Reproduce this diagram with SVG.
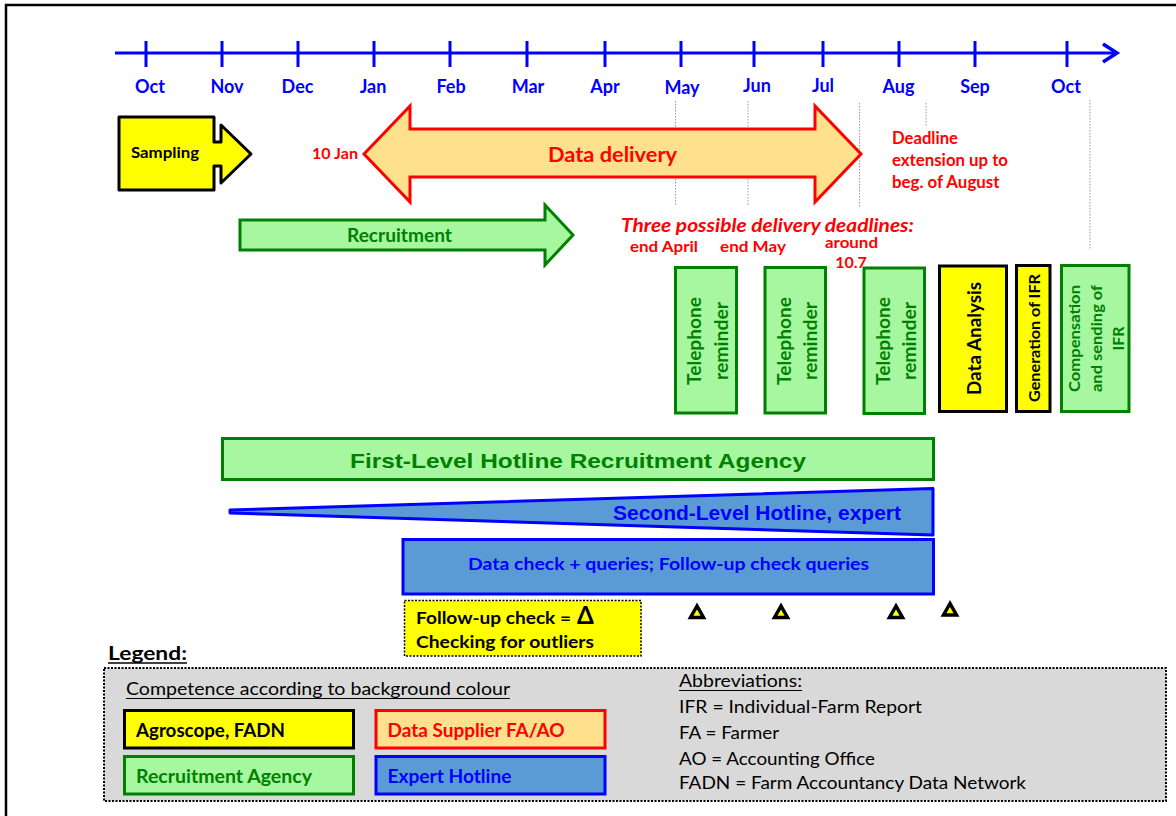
<svg xmlns="http://www.w3.org/2000/svg" width="1176" height="816" viewBox="0 0 1176 816">
<style>
  text { font-family: Lato, "Liberation Sans", sans-serif; }
  .b { font-weight: bold; }
  .month { font-weight: bold; font-size: 18px; fill: #0000FF; text-anchor: middle; }
  .red { fill: #FF0000; }
  .grn { fill: #008000; }
  .blu { fill: #0000FF; }
  .blk { fill: #000000; }
  .gfill { fill: #A6F7A0; stroke: #008000; stroke-width: 3; }
  .yfill { fill: #FFFF00; stroke: #000000; stroke-width: 3; }
  .ofill { fill: #FFE08C; stroke: #FF0000; stroke-width: 3; }
  .bfill { fill: #5B9BD5; stroke: #0000FF; stroke-width: 3; }
  .dot { stroke: #9A9A9A; stroke-width: 1; stroke-dasharray: 1.5 1.5; fill: none; }
  .tri { fill: #FFFF00; stroke: #000000; stroke-width: 3.5; stroke-linejoin: miter; }
  .arial { font-family: "Liberation Sans", Arial, sans-serif; font-weight: bold; }
  .reg { font-weight: normal; font-size: 18px; fill: #000000; }
</style>

<!-- frame -->
<path d="M6,820 V5 H1180" fill="none" stroke="#000" stroke-width="2.5"/>

<!-- timeline -->
<g id="timeline" stroke="#0000FF" stroke-width="3" fill="none">
  <line x1="115" y1="53" x2="1116" y2="53"/>
  <polyline points="1103,44 1117,53 1103,62" stroke-width="3.5"/>
  <line x1="146" y1="41" x2="146" y2="67"/>
  <line x1="222" y1="41" x2="222" y2="67"/>
  <line x1="298" y1="41" x2="298" y2="67"/>
  <line x1="374" y1="41" x2="374" y2="67"/>
  <line x1="450" y1="41" x2="450" y2="67"/>
  <line x1="527" y1="41" x2="527" y2="67"/>
  <line x1="605" y1="41" x2="605" y2="67"/>
  <line x1="681" y1="41" x2="681" y2="67"/>
  <line x1="754" y1="41" x2="754" y2="67"/>
  <line x1="823" y1="41" x2="823" y2="67"/>
  <line x1="899" y1="41" x2="899" y2="67"/>
  <line x1="975" y1="41" x2="975" y2="67"/>
  <line x1="1067" y1="41" x2="1067" y2="67"/>
</g>
<g id="months">
  <text class="month" x="150" y="92.5">Oct</text>
  <text class="month" x="227" y="92.5">Nov</text>
  <text class="month" x="297.5" y="92.5">Dec</text>
  <text class="month" x="373" y="92.5">Jan</text>
  <text class="month" x="451" y="92.5">Feb</text>
  <text class="month" x="528" y="92.5">Mar</text>
  <text class="month" x="605" y="92.5">Apr</text>
  <text class="month" x="682" y="94">May</text>
  <text class="month" x="757" y="91.5">Jun</text>
  <text class="month" x="823" y="91.5">Jul</text>
  <text class="month" x="898.5" y="92.5">Aug</text>
  <text class="month" x="975" y="92.5">Sep</text>
  <text class="month" x="1066" y="93">Oct</text>
</g>

<!-- dotted guide lines -->
<g id="guides">
  <line class="dot" x1="675.5" y1="101" x2="675.5" y2="205"/>
  <line class="dot" x1="748" y1="101" x2="748" y2="206"/>
  <line class="dot" x1="859.5" y1="103" x2="859.5" y2="208"/>
  <line class="dot" x1="926" y1="103" x2="926" y2="127"/>
  <line class="dot" x1="1090" y1="100" x2="1090" y2="250"/>
</g>

<!-- Sampling -->
<g id="sampling">
  <polygon class="yfill" stroke-width="3.5" stroke-linejoin="round" points="119,117 214,117 214,142 221,142 221,125 251,154 221,183 221,166 214,166 214,190 119,190"/>
  <text class="b blk" x="165" y="157.8" font-size="16" text-anchor="middle" textLength="68" lengthAdjust="spacingAndGlyphs">Sampling</text>
</g>

<!-- Data delivery -->
<g id="data-delivery">
  <polygon class="ofill" stroke-width="3.5" points="364,154 410,106 410,129 815,129 815,106 861,154 815,202 815,177 410,177 410,202"/>
  <text class="b red" x="612.5" y="161.5" font-size="21" text-anchor="middle" textLength="129" lengthAdjust="spacingAndGlyphs">Data delivery</text>
</g>
<text class="b red" x="358" y="158.5" font-size="15" text-anchor="end" textLength="46" lengthAdjust="spacingAndGlyphs">10 Jan</text>
<g id="deadline-ext" class="b red" font-size="16.5">
  <text x="892" y="144" textLength="66" lengthAdjust="spacingAndGlyphs">Deadline</text>
  <text x="892" y="166" textLength="116" lengthAdjust="spacingAndGlyphs">extension up to</text>
  <text x="892" y="188" textLength="107.5" lengthAdjust="spacingAndGlyphs">beg. of August</text>
</g>

<!-- Recruitment -->
<g id="recruitment">
  <polygon class="gfill" stroke-width="3.5" points="240,220 545,220 545,205 573,235 545,265 545,250 240,250"/>
  <text class="b grn" x="399.5" y="241.5" font-size="18" text-anchor="middle" textLength="105" lengthAdjust="spacingAndGlyphs">Recruitment</text>
</g>

<!-- deadlines text -->
<g id="deadlines" class="b red">
  <text x="621" y="231.5" font-size="19" font-style="italic" textLength="293" lengthAdjust="spacingAndGlyphs">Three possible delivery deadlines:</text>
  <text x="630" y="251.8" font-size="16" textLength="68" lengthAdjust="spacingAndGlyphs">end April</text>
  <text x="720" y="251.8" font-size="16" textLength="66" lengthAdjust="spacingAndGlyphs">end May</text>
  <text x="825" y="248" font-size="16" textLength="53" lengthAdjust="spacingAndGlyphs">around</text>
  <text x="851" y="267.6" font-size="16" text-anchor="middle">10.7</text>
</g>

<!-- vertical boxes -->
<g id="tel1">
  <rect class="gfill" x="675.5" y="267.5" width="61" height="145.5"/>
  <text class="b grn" font-size="18.5" text-anchor="middle" transform="translate(707,341) rotate(-90)"><tspan x="0" y="-6.5" textLength="88" lengthAdjust="spacingAndGlyphs">Telephone</tspan><tspan x="0" y="20.5" textLength="78" lengthAdjust="spacingAndGlyphs">reminder</tspan></text>
</g>
<g id="tel2">
  <rect class="gfill" x="765" y="267.5" width="60.5" height="145.5"/>
  <text class="b grn" font-size="18.5" text-anchor="middle" transform="translate(797,341) rotate(-90)"><tspan x="0" y="-6.5" textLength="88" lengthAdjust="spacingAndGlyphs">Telephone</tspan><tspan x="0" y="20" textLength="78" lengthAdjust="spacingAndGlyphs">reminder</tspan></text>
</g>
<g id="tel3">
  <rect class="gfill" x="864" y="268" width="60.5" height="145.5"/>
  <text class="b grn" font-size="18.5" text-anchor="middle" transform="translate(896,341) rotate(-90)"><tspan x="0" y="-6.5" textLength="88" lengthAdjust="spacingAndGlyphs">Telephone</tspan><tspan x="0" y="19.5" textLength="78" lengthAdjust="spacingAndGlyphs">reminder</tspan></text>
</g>
<g id="data-analysis">
  <rect class="yfill" x="939.5" y="266" width="67" height="145.5"/>
  <text class="b blk" font-size="18.5" text-anchor="middle" transform="translate(980.7,338.5) rotate(-90)" textLength="113" lengthAdjust="spacingAndGlyphs">Data Analysis</text>
</g>
<g id="generation-ifr">
  <rect class="yfill" x="1016.5" y="265.5" width="33.5" height="146"/>
  <text class="b blk" font-size="16" text-anchor="middle" transform="translate(1039.8,338) rotate(-90)" textLength="128" lengthAdjust="spacingAndGlyphs">Generation of IFR</text>
</g>
<g id="compensation">
  <rect class="gfill" x="1061.5" y="265.5" width="67.5" height="146"/>
  <text class="b grn" font-size="16" text-anchor="middle" transform="translate(1101.8,338.5) rotate(-90)"><tspan x="0" y="-22" textLength="107" lengthAdjust="spacingAndGlyphs">Compensation</tspan><tspan x="0" y="0" textLength="107" lengthAdjust="spacingAndGlyphs">and sending of</tspan><tspan x="0" y="22">IFR</tspan></text>
</g>

<!-- hotlines -->
<g id="first-level">
  <rect class="gfill" x="222.5" y="438.5" width="711" height="41"/>
  <text class="arial" x="578" y="467.5" font-size="21" fill="#008000" text-anchor="middle" textLength="456" lengthAdjust="spacingAndGlyphs">First-Level Hotline  Recruitment Agency</text>
</g>
<g id="second-level">
  <polygon class="bfill" stroke-linejoin="round" points="230,510 933,488.5 933,535 230,513"/>
  <text class="arial" x="613" y="520" font-size="20" fill="#0000FF" textLength="288" lengthAdjust="spacingAndGlyphs">Second-Level Hotline, expert</text>
</g>
<g id="data-check">
  <rect class="bfill" x="403" y="539.5" width="530.5" height="54.5"/>
  <text class="b blu" x="468" y="570" font-size="17" textLength="401" lengthAdjust="spacingAndGlyphs">Data check + queries; Follow-up check queries</text>
</g>
<g id="follow-up">
  <rect x="404.5" y="600.5" width="236.5" height="55.5" fill="#FFFF00" stroke="#000" stroke-width="1.5" stroke-dasharray="2 1.5"/>
  <text class="b blk" x="416" y="623.5" font-size="17"><tspan textLength="155" lengthAdjust="spacingAndGlyphs">Follow-up check =</tspan><tspan x="577" font-size="24">Δ</tspan></text>
  <text class="b blk" x="416" y="648" font-size="17" textLength="178" lengthAdjust="spacingAndGlyphs">Checking for outliers</text>
</g>
<g id="follow-up-marks">
  <polygon class="tri" points="697,606 690.5,617.5 703.5,617.5"/>
  <polygon class="tri" points="781,606 774.5,617.5 787.5,617.5"/>
  <polygon class="tri" points="896,606 889.5,617.5 902.5,617.5"/>
  <polygon class="tri" points="950,603.5 943.5,615 956.5,615"/>
</g>

<!-- legend -->
<g id="legend">
  <text class="b blk" x="108" y="660" font-size="19" textLength="79" lengthAdjust="spacingAndGlyphs">Legend:</text>
  <line x1="108" y1="663" x2="187" y2="663" stroke="#000" stroke-width="1.6"/>
  <rect x="104" y="668" width="1062" height="133" fill="#D9D9D9" stroke="#000" stroke-width="2" stroke-dasharray="2 1.5"/>
  <text class="reg" x="126" y="694.5" textLength="384" lengthAdjust="spacingAndGlyphs">Competence according to background colour</text>
  <line x1="126" y1="698.5" x2="510" y2="698.5" stroke="#000" stroke-width="1.2"/>
  <g id="leg-agroscope">
    <rect class="yfill" x="124.5" y="710.5" width="229" height="37.5"/>
    <text class="b blk" x="136" y="736.5" font-size="18" textLength="149" lengthAdjust="spacingAndGlyphs">Agroscope, FADN</text>
  </g>
  <g id="leg-supplier">
    <rect class="ofill" x="376" y="710.5" width="229" height="37.5"/>
    <text class="b red" x="387.5" y="736.5" font-size="18" textLength="177" lengthAdjust="spacingAndGlyphs">Data Supplier FA/AO</text>
  </g>
  <g id="leg-recruit">
    <rect class="gfill" x="124.5" y="756.5" width="229" height="37.5"/>
    <text class="b grn" x="136" y="782.5" font-size="18" textLength="176" lengthAdjust="spacingAndGlyphs">Recruitment Agency</text>
  </g>
  <g id="leg-expert">
    <rect class="bfill" x="376" y="756.5" width="229" height="37.5"/>
    <text class="b blu" x="387.5" y="782.5" font-size="18" textLength="124" lengthAdjust="spacingAndGlyphs">Expert Hotline</text>
  </g>
  <text class="reg" x="679" y="686.5" textLength="123" lengthAdjust="spacingAndGlyphs">Abbreviations:</text>
  <line x1="679" y1="690.5" x2="802" y2="690.5" stroke="#000" stroke-width="1.2"/>
  <text class="reg" x="679" y="713" textLength="243" lengthAdjust="spacingAndGlyphs">IFR = Individual-Farm Report</text>
  <text class="reg" x="679" y="739" textLength="100" lengthAdjust="spacingAndGlyphs">FA = Farmer</text>
  <text class="reg" x="679" y="764.5" textLength="196" lengthAdjust="spacingAndGlyphs">AO = Accounting Office</text>
  <text class="reg" x="679" y="789" textLength="347" lengthAdjust="spacingAndGlyphs">FADN = Farm Accountancy Data Network</text>
</g>
</svg>
